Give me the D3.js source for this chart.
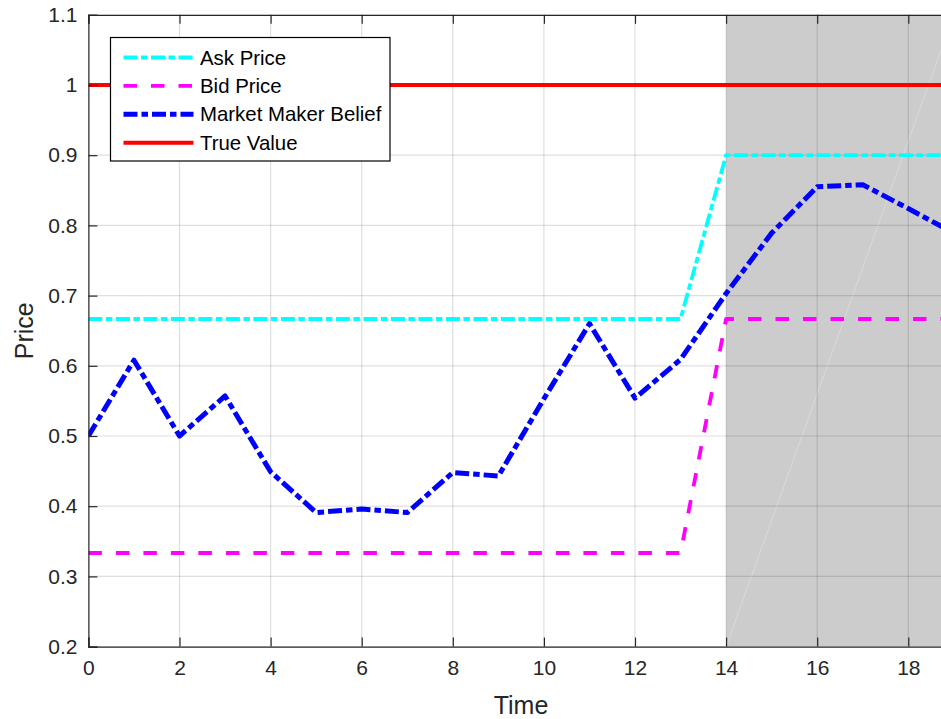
<!DOCTYPE html>
<html>
<head>
<meta charset="utf-8">
<script src="https://cdn.jsdelivr.net/npm/d3@7"></script>
<style>
  body { margin: 0; background: #fff; }
  svg { display: block; font-family: "Liberation Sans", Arial, sans-serif; }
</style>
</head>
<body>
<svg id="chart" width="941" height="719"></svg>
<script>
// values
var time = [0, 1, 2, 3, 4, 5, 6, 7, 8, 9, 10, 11, 12, 13, 14, 15, 16, 17, 18, 19];
var askPrice = [0.6667, 0.6667, 0.6667, 0.6667, 0.6667, 0.6667, 0.6667, 0.6667, 0.6667, 0.6667,
    0.6667, 0.6667, 0.6667, 0.6667, 0.9, 0.9, 0.9, 0.9, 0.9, 0.9];
var bidPrice = [0.3333, 0.3333, 0.3333, 0.3333, 0.3333, 0.3333, 0.3333, 0.3333, 0.3333, 0.3333,
    0.3333, 0.3333, 0.3333, 0.3333, 0.6667, 0.6667, 0.6667, 0.6667, 0.6667, 0.6667];
var belief = [0.5, 0.608, 0.5, 0.557, 0.449, 0.391, 0.396, 0.391, 0.448, 0.443,
    0.553, 0.66, 0.554, 0.609, 0.703, 0.789, 0.855, 0.858, 0.824, 0.789];
var trueValue = [1, 1, 1, 1, 1, 1, 1, 1, 1, 1, 1, 1, 1, 1, 1, 1, 1, 1, 1, 1];
var shadeRange = [14, 19];
var xTicks = [0, 2, 4, 6, 8, 10, 12, 14, 16, 18];
var yTicks = [0.2, 0.3, 0.4, 0.5, 0.6, 0.7, 0.8, 0.9, 1, 1.1];

var cfg = {
    left: 88.4, top: 14.8, bottom: 646.6,
    axisColor: "#262626",
    tickLen: 9
};

var svg = d3.select("#chart");

var x = d3.scaleLinear().domain([0, 19]).range([cfg.left, cfg.left + 19 * 45.55]);
var y = d3.scaleLinear().domain([0.2, 1.1]).range([cfg.bottom, cfg.top]);

var plotW = x(19) - x(0);
var plotH = cfg.bottom - cfg.top;

svg.append("defs").append("clipPath").attr("id", "plotClip")
    .append("rect").attr("x", x(0)).attr("y", cfg.top).attr("width", plotW).attr("height", plotH);

var plot = svg.append("g").attr("clip-path", "url(#plotClip)");

// shaded region
plot.append("rect")
    .attr("x", x(shadeRange[0]))
    .attr("y", y(1.1))
    .attr("width", x(shadeRange[1]) - x(shadeRange[0]))
    .attr("height", y(0.2) - y(1.1))
    .attr("fill", "#cccccc");

// faint patch seam
plot.append("line")
    .attr("x1", x(shadeRange[0])).attr("y1", y(0.2))
    .attr("x2", x(shadeRange[1])).attr("y2", y(1.1))
    .attr("stroke", "#ffffff").attr("stroke-opacity", 0.4).attr("stroke-width", 0.7);

// grid
plot.append("g").selectAll("line").data(xTicks).join("line")
    .attr("x1", (d) => x(d)).attr("x2", (d) => x(d))
    .attr("y1", cfg.top).attr("y2", cfg.bottom)
    .attr("stroke", cfg.axisColor).attr("stroke-opacity", 0.15).attr("stroke-width", 1.2);
plot.append("g").selectAll("line").data(yTicks).join("line")
    .attr("x1", x(0)).attr("x2", x(19))
    .attr("y1", (d) => y(d)).attr("y2", (d) => y(d))
    .attr("stroke", cfg.axisColor).attr("stroke-opacity", 0.15).attr("stroke-width", 1.2);

var line = (vals) => d3.line()
    .x((d, i) => x(time[i]))
    .y((d) => y(d))(vals);

var series = [
    { name: "Ask Price", values: askPrice, color: "#00ffff", width: 3.8, dash: "14 3.5 6.5 3.5" },
    { name: "Bid Price", values: bidPrice, color: "#ff00ff", width: 3.8, dash: "13.5 14" },
    { name: "Market Maker Belief", values: belief, color: "#0000ff", width: 5, dash: "14 4 6.5 4" },
    { name: "True Value", values: trueValue, color: "#ff0000", width: 4, dash: null }
];

series.forEach((s) => {
    plot.append("path")
        .attr("d", line(s.values))
        .attr("fill", "none")
        .attr("stroke", s.color)
        .attr("stroke-width", s.width)
        .attr("stroke-dasharray", s.dash)
        .attr("stroke-linejoin", "round");
});

// axes
var xAxisB = d3.axisBottom(x).tickValues(xTicks).tickSize(-cfg.tickLen).tickPadding(13).tickFormat(d3.format("d"));
var xAxisT = d3.axisTop(x).tickValues(xTicks).tickSize(-cfg.tickLen).tickFormat("");
var yAxisL = d3.axisLeft(y).tickValues(yTicks).tickSize(-cfg.tickLen).tickPadding(11).tickFormat((d) => d3.format("")(+d.toFixed(1)));

function styleAxis(g) {
    g.select(".domain").attr("stroke", cfg.axisColor).attr("stroke-width", 1.2);
    g.selectAll(".tick line").attr("stroke", cfg.axisColor).attr("stroke-width", 1.2);
    g.selectAll(".tick text").attr("fill", cfg.axisColor).attr("font-size", 21)
        .attr("font-family", "Liberation Sans, Arial, sans-serif");
}

svg.append("g").attr("transform", `translate(0,${cfg.bottom})`).call(xAxisB).call(styleAxis);
svg.append("g").attr("transform", `translate(0,${cfg.top})`).call(xAxisT).call(styleAxis);
svg.append("g").attr("transform", `translate(${cfg.left},0)`).call(yAxisL).call(styleAxis);

// axis labels
svg.append("text")
    .attr("x", 521).attr("y", 714)
    .attr("text-anchor", "middle").attr("fill", cfg.axisColor)
    .attr("font-size", 25).text("Time");
svg.append("text")
    .attr("transform", `translate(33,${(cfg.top + cfg.bottom) / 2}) rotate(-90)`)
    .attr("text-anchor", "middle").attr("fill", cfg.axisColor)
    .attr("font-size", 25).text("Price");

// legend
var legend = svg.append("g").attr("transform", "translate(110.5,37.5)");
legend.append("rect")
    .attr("width", 279.5).attr("height", 123.5)
    .attr("fill", "#ffffff").attr("stroke", "#000000").attr("stroke-width", 1.2);
series.forEach((s, i) => {
    var yy = 20 + i * 28.4;
    legend.append("line")
        .attr("x1", 13).attr("x2", 83).attr("y1", yy).attr("y2", yy)
        .attr("stroke", s.color).attr("stroke-width", s.width)
        .attr("stroke-dasharray", s.dash);
    legend.append("text")
        .attr("x", 89.5).attr("y", yy).attr("dy", "0.35em")
        .attr("font-size", 20.4).attr("fill", "#000").text(s.name);
});
</script>
</body>
</html>
